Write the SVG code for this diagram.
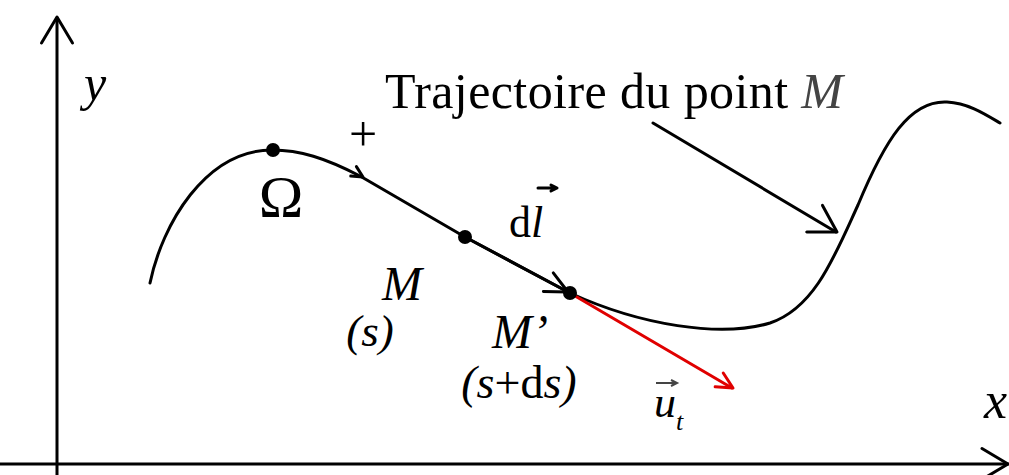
<svg xmlns="http://www.w3.org/2000/svg" width="1009" height="475" viewBox="0 0 1009 475">
<style>
.ln{fill:none;stroke:#000;stroke-width:3;stroke-linecap:round;stroke-linejoin:round}
.red{fill:none;stroke:#e00000;stroke-width:3;stroke-linecap:round;stroke-linejoin:round}
.t{font-family:"Liberation Serif","Times New Roman",serif;fill:#000}
.i{font-style:italic}
</style>
<rect width="1009" height="475" fill="#fff"/>
<g id="axes">
<line class="ln" x1="57" y1="18" x2="57" y2="475"/>
<path class="ln" d="M-26,-15.5 L0,0 L-26,15.5" transform="translate(57,17) rotate(-90)"/>
<line class="ln" x1="0" y1="464" x2="1008" y2="464"/>
<path class="ln" d="M-26,-15.5 L0,0 L-26,15.5" transform="translate(1008,464)"/>
<text class="t i" x="84" y="100" font-size="50">y</text>
<text class="t i" x="984" y="418" font-size="52">x</text>
</g>
<g id="trajectory">
<path class="ln" stroke-width="3.5" d="M150,283 C162,225 205,150 272,150 C300,150 325,158 360,176 L465,237 L570,293 C640,325 720,338 770,323 C815,308 835,255 858,205 C885,140 910,100 947,102 C968,103 985,114 1000,123"/>
<path class="ln" stroke-width="2.5" d="M-11,-5.5 L0,0 L-11,5.5" transform="translate(363,177) rotate(31)"/>
<text class="t" x="363" y="151" font-size="50" text-anchor="middle">+</text>
</g>
<g id="omega">
<circle cx="273" cy="150" r="7"/>
<text class="t" x="281" y="217" font-size="60" text-anchor="middle">Ω</text>
</g>
<g id="dl">
<line class="ln" stroke-width="5" x1="465" y1="237" x2="568" y2="292"/>
<path class="ln" d="M-22,-10 L0,0 L-22,11" transform="translate(568,292) rotate(28)"/>
<text class="t" x="509" y="237" font-size="44">d<tspan class="i">l</tspan></text>
<path class="ln" stroke-width="2" d="M538,188 L556,188 M551,185 L557,188 L551,191"/>
</g>
<g id="M">
<circle cx="465" cy="237" r="7"/>
<text class="t i" x="402" y="300" font-size="48" text-anchor="middle">M</text>
<text class="t i" x="370" y="346" font-size="45" text-anchor="middle">(s)</text>
</g>
<g id="Mprime">
<line class="red" x1="570" y1="293" x2="732" y2="388"/>
<path class="red" d="M-16,-8 L0,0 L-16,8" transform="translate(733,388) rotate(30.4)"/>
<circle cx="570" cy="293" r="7"/>
<text class="t i" x="520" y="348" font-size="48" text-anchor="middle">M’</text>
<text class="t" x="519" y="398" font-size="46" text-anchor="middle"><tspan class="i">(s</tspan>+d<tspan class="i">s)</tspan></text>
<text class="t i" x="654" y="417" font-size="44" fill="#444">u</text>
<text class="t i" x="676" y="430" font-size="26" fill="#444">t</text>
<path fill="none" stroke="#444" stroke-width="2" d="M656,383 L676,383 M671,380 L677,383 L671,386"/>
</g>
<g id="label">
<text class="t" x="385" y="108" font-size="50" textLength="458" lengthAdjust="spacing">Trajectoire du point <tspan class="i" fill="#444">M</tspan></text>
<line class="ln" x1="653" y1="123" x2="836" y2="232"/>
<path class="ln" d="M-26,-15.5 L0,0 L-26,15.5" transform="translate(837,232) rotate(30.6)"/>
</g>
</svg>
